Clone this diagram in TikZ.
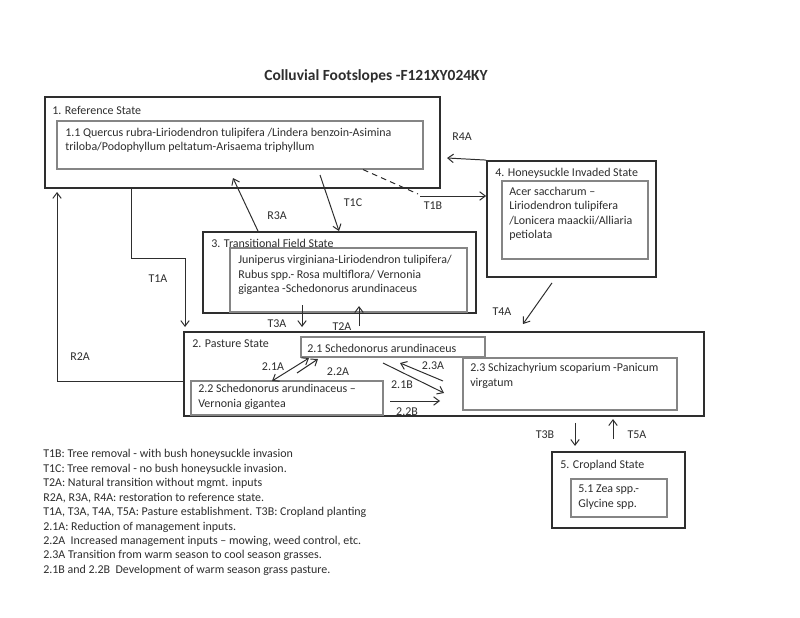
\documentclass[tikz,border=0pt]{standalone}
\usepackage{fontspec}
\setmainfont{Carlito}
\usetikzlibrary{fit,arrows.meta}

\definecolor{ink}{HTML}{2E2E2E}
\definecolor{innerline}{HTML}{858585}

\tikzset{
  outerbox/.style={draw=ink, line width=1.3pt, inner sep=0pt},
  innerbox/.style={draw=innerline, line width=0.8pt, inner sep=0pt},
  txt/.style={font=\fontsize{8.5}{10.3}\selectfont, text=ink, inner sep=0pt, anchor=west, align=left},
  lbl/.style={font=\fontsize{8.5}{10.3}\selectfont, text=ink, inner sep=0pt},
  arr/.style={-{Straight Barb[length=4pt,width=6pt]}, draw=ink, line width=0.7pt},
}

\begin{document}
\begin{tikzpicture}[x=0.025cm,y=-0.025cm]
  \fill[white] (0,0) rectangle (800,617);
  \useasboundingbox (0,0) rectangle (800,617);

  \node[font=\fontsize{11}{13}\bfseries, text=ink] (title) at (376,76) {Colluvial Footslopes -F121XY024KY};

  % state boxes
  \node[outerbox, fit={(45,97) (440,188)}] (ref) {};
  \node[innerbox, fit={(57,121) (423,169)}] (refin) {};
  \node[outerbox, fit={(487,161) (656,277)}] (hs) {};
  \node[innerbox, fit={(502,181) (648,259)}] (hsin) {};
  \node[outerbox, fit={(203,232) (476,313)}] (tf) {};
  \node[innerbox, fit={(230,248) (467,312)}] (tfin) {};
  \node[outerbox, fit={(184,332) (704,416)}] (past) {};
  \node[innerbox, fit={(301,337) (485,357)}] (p21) {};
  \node[innerbox, fit={(191,381) (383,415)}] (p22) {};
  \node[innerbox, fit={(463,358) (677,410)}] (p23) {};
  \node[outerbox, fit={(552,452) (685,528)}] (crop) {};
  \node[innerbox, fit={(571,479) (667,517)}] (cropin) {};

  % box texts
  \node[txt] (reflbl) at (52,110) {1. Reference State};
  \node[txt] (reftxt) at (65,140.5) {1.1 Quercus rubra-Liriodendron tulipifera /Lindera benzoin-Asimina\\triloba/Podophyllum peltatum-Arisaema triphyllum};
  \node[txt] (hslbl) at (495,173) {4. Honeysuckle Invaded State};
  \node[txt] (hstxt) at (509,214) {Acer saccharum --\\Liriodendron tulipifera\\/Lonicera maackii/Alliaria\\petiolata};
  \node[txt] (tflbl) at (211,243) {3. Transitional Field State};
  \node[txt] (tftxt) at (238,275) {Juniperus virginiana-Liriodendron tulipifera/\\Rubus spp.- Rosa multiflora/ Vernonia\\gigantea -Schedonorus arundinaceus};
  \node[txt] (pastlbl) at (192,344) {2. Pasture State};
  \node[txt] (p21txt) at (307,348) {2.1 Schedonorus arundinaceus};
  \node[txt] (p22txt) at (198,397) {2.2 Schedonorus arundinaceus --\\Vernonia gigantea};
  \node[txt] (p23txt) at (470,376) {2.3 Schizachyrium scoparium -Panicum\\virgatum};
  \node[txt] (croplbl) at (560,465) {5. Cropland State};
  \node[txt] (croptxt) at (578,497) {5.1 Zea spp.-\\Glycine spp.};

  % transitions between states
  \coordinate (r4end) at (447,158);
  \draw[arr] (hs.north west) -- (r4end);
  \node[lbl] (r4a) at (462,137) {R4A};

  \coordinate (t1bstart) at (refin.south -| 363,0);
  \coordinate (t1bbreak) at (418,194);
  \draw[ink, line width=0.7pt, dash pattern=on 4pt off 3pt] (t1bstart) -- (t1bbreak);
  \draw[arr] (420,196) -- (hs.west |- 0,196);
  \node[lbl] (t1b) at (433,206) {T1B};

  \coordinate (r3end) at (233,178);
  \draw[arr] (tf.north -| 258,0) -- (r3end);
  \node[lbl] (r3a) at (277,216) {R3A};

  \coordinate (t1cstart) at (320,175);
  \draw[arr] (t1cstart) -- (tf.north -| 339,0);
  \node[lbl] (t1c) at (353,203) {T1C};

  \coordinate (t1abend) at (185,258);
  \draw[arr] (ref.south -| 131,0) |- (t1abend) -- ++(0,69);
  \node[lbl] (t1a) at (158,279) {T1A};

  \coordinate (r2acorner) at (57,381);
  \draw[arr] (past.west |- r2acorner) -- (r2acorner) -- ++(0,-189);
  \node[lbl] (r2a) at (80,357) {R2A};

  \draw[arr] (302,305) -- (302,327);
  \node[lbl] (t3a) at (277,324) {T3A};
  \draw[arr] (past.north -| 359,0) ++(0,-5) -- ++(0,-20);
  \node[lbl] (t2a) at (342,327) {T2A};

  \coordinate (t4aend) at (523,324);
  \draw[arr] (hs.south -| 552,0) ++(0,5) -- (t4aend);
  \node[lbl] (t4a) at (502,312) {T4A};

  % transitions within the pasture state
  \draw[arr, {Straight Barb[length=4pt,width=6pt]}-{Straight Barb[length=4pt,width=6pt]}] (272,381) -- (309,358);
  \node[lbl] (t21a) at (273,367) {2.1A};
  \draw[arr] (297,373) -- (318,359);
  \node[lbl] (t22a) at (338,372) {2.2A};
  \draw[arr] (443,381) -- (400,363);
  \node[lbl] (t23a) at (433,366) {2.3A};
  \draw[arr] (383,363) -- (444,393);
  \node[lbl] (t21b) at (402,385) {2.1B};
  \draw[arr] (390,401) -- (440,401);
  \node[lbl] (t22b) at (407,412) {2.2B};

  % cropland
  \draw[arr] (past.south -| 575,0) ++(0,6) -- ++(0,23);
  \node[lbl] (t3b) at (545,435) {T3B};
  \draw[arr] (crop.north -| 613,0) ++(0,-12) -- ++(0,-20);
  \node[lbl] (t5a) at (637,435) {T5A};

  % legend
  \node[txt, anchor=north west] (legend) at (43,449) {T1B: Tree removal - with bush honeysuckle invasion\\
    T1C: Tree removal - no bush honeysuckle invasion.\\
    T2A: Natural transition without mgmt. inputs\\
    R2A, R3A, R4A: restoration to reference state.\\
    T1A, T3A, T4A, T5A: Pasture establishment. T3B: Cropland planting\\
    2.1A: Reduction of management inputs.\\
    2.2A~ Increased management inputs -- mowing, weed control, etc.\\
    2.3A Transition from warm season to cool season grasses.\\
    2.1B and 2.2B~ Development of warm season grass pasture.};
\end{tikzpicture}
\end{document}
